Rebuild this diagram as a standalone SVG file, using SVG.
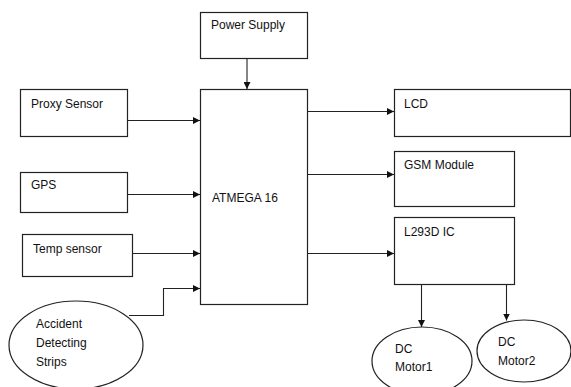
<svg xmlns="http://www.w3.org/2000/svg" width="571" height="387" viewBox="0 0 571 387">
<style>
.b{fill:#fff;stroke:#222;stroke-width:1.2}
.t{font-family:"Liberation Sans",Arial,sans-serif;font-size:12px;fill:#111}
.c{fill:none;stroke:#222;stroke-width:1.1}
</style>
<defs>
<marker id="a" viewBox="0 0 10 10" refX="10" refY="5" markerWidth="7" markerHeight="7" markerUnits="userSpaceOnUse" orient="auto"><path d="M0,0 L10,5 L0,10 z" fill="#111"/></marker>
</defs>
<rect width="571" height="387" fill="#fff"/>
<g id="power"><rect class="b" x="200.5" y="12.5" width="107" height="46"/><text class="t" x="211" y="29">Power Supply</text></g>
<g id="atmega"><rect class="b" x="200.5" y="89.5" width="107" height="215"/><text class="t" x="212" y="202">ATMEGA 16</text></g>
<g id="proxy"><rect class="b" x="20.5" y="89.5" width="107" height="47"/><text class="t" x="31" y="108">Proxy Sensor</text></g>
<g id="gps"><rect class="b" x="20.5" y="172.5" width="107" height="40"/><text class="t" x="31" y="189">GPS</text></g>
<g id="temp"><rect class="b" x="22.5" y="234.5" width="110" height="42"/><text class="t" x="33" y="253">Temp sensor</text></g>
<g id="accident"><ellipse class="b" cx="76" cy="345" rx="67" ry="44"/><text class="t" x="36" y="328">Accident</text><text class="t" x="36" y="347">Detecting</text><text class="t" x="36" y="366">Strips</text></g>
<g id="lcd"><rect class="b" x="394.5" y="89.5" width="176" height="47"/><text class="t" x="404" y="108">LCD</text></g>
<g id="gsm"><rect class="b" x="394.5" y="151.5" width="120" height="55"/><text class="t" x="404" y="169">GSM Module</text></g>
<g id="l293d"><rect class="b" x="394.5" y="217.5" width="120" height="67"/><text class="t" x="404" y="236">L293D IC</text></g>
<g id="motor1"><ellipse class="b" cx="422" cy="361" rx="50" ry="34"/><text class="t" x="395" y="353">DC</text><text class="t" x="395" y="371">Motor1</text></g>
<g id="motor2"><ellipse class="b" cx="524" cy="351" rx="47" ry="31"/><text class="t" x="498" y="346">DC</text><text class="t" x="498" y="365">Motor2</text></g>
<g id="connectors">
<path class="c" d="M247,58.5 V89" marker-end="url(#a)"/>
<path class="c" d="M128,120.5 H200" marker-end="url(#a)"/>
<path class="c" d="M128,194.5 H200" marker-end="url(#a)"/>
<path class="c" d="M133,253.5 H200" marker-end="url(#a)"/>
<path class="c" d="M129,315.5 H163.5 V288.5 H200" marker-end="url(#a)"/>
<path class="c" d="M307.5,111.5 H394" marker-end="url(#a)"/>
<path class="c" d="M307.5,174.5 H394" marker-end="url(#a)"/>
<path class="c" d="M307.5,253.5 H394" marker-end="url(#a)"/>
<path class="c" d="M421.5,284.5 V327" marker-end="url(#a)"/>
<path class="c" d="M506.5,284.5 V320.5" marker-end="url(#a)"/>
</g>
</svg>
